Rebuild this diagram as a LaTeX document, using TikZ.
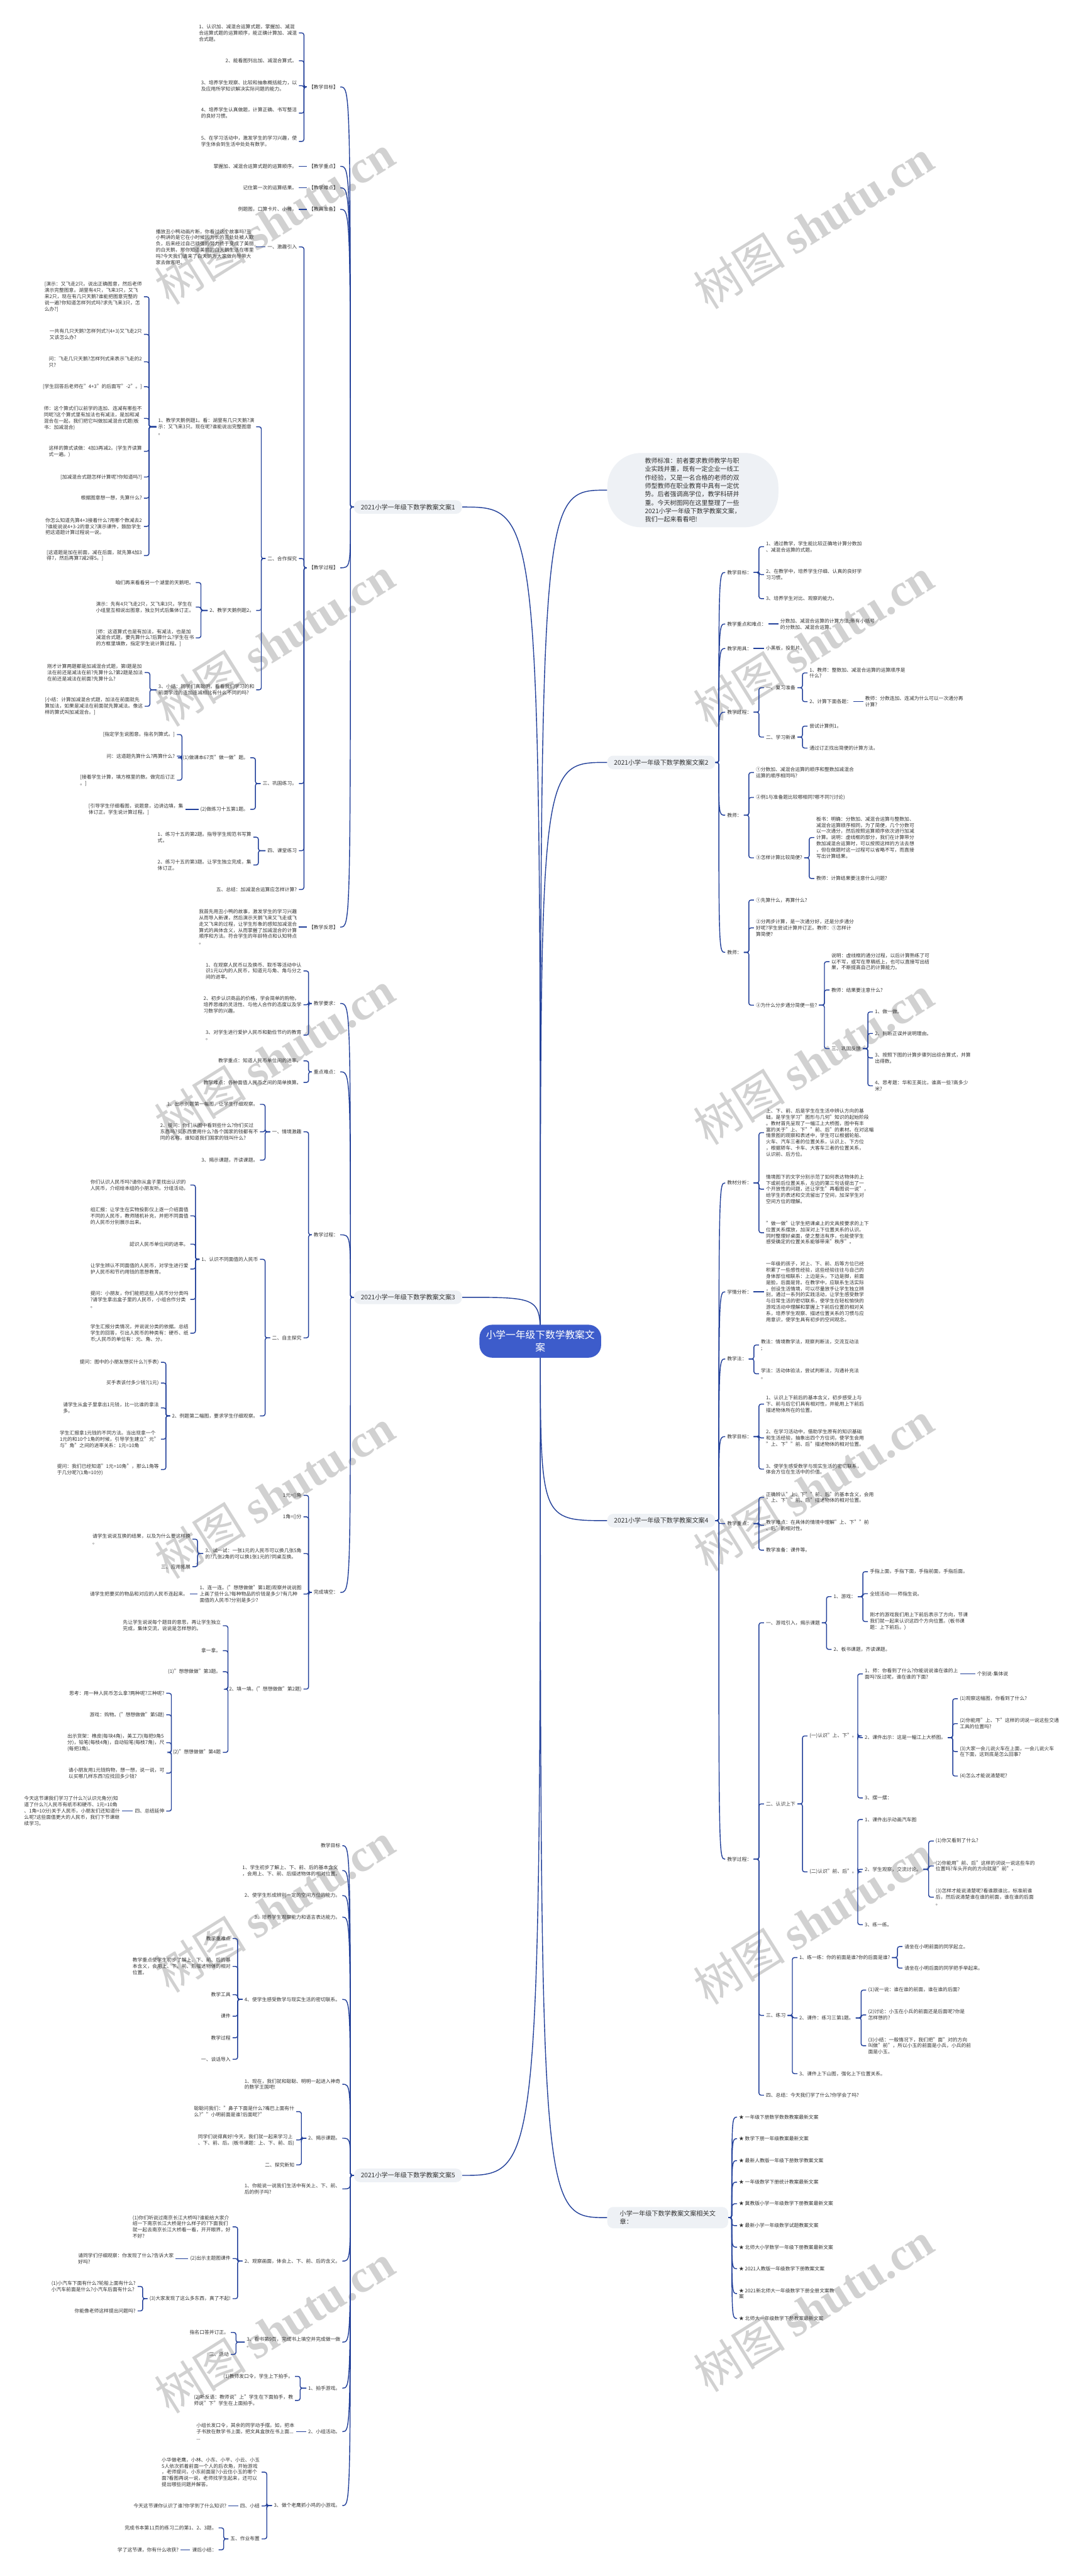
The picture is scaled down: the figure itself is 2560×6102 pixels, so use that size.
\documentclass[tikz,border=0pt]{standalone}
\usepackage{fontspec}
\setmainfont{Noto Sans CJK SC}
\newfontfamily\markserif{Liberation Serif}
\usepackage{xcolor}
\definecolor{linkblue}{HTML}{22409A}
\definecolor{hubblue}{HTML}{3D5CCB}
\definecolor{topicgray}{HTML}{EEF1F5}
\definecolor{inkgray}{HTML}{333333}
\usetikzlibrary{calc}
\newcommand\leaffont{\fontsize{3.3pt}{4.18pt}\selectfont}
\newcommand\topicfont{\fontsize{4.3pt}{5.2pt}\selectfont}
\newcommand\notefont{\fontsize{4.24pt}{5.63pt}\selectfont}
\newcommand\hubfont{\fontsize{6.66pt}{8.6pt}\selectfont}
\newcommand\markfont{\fontsize{31pt}{31pt}\selectfont}

\begin{document}
\begin{tikzpicture}[x=0.01cm, y=-0.01cm,
  leaf/.style={font=\leaffont, align=left, inner sep=0.04cm, text=inkgray},
  lft/.style={leaf, anchor=east},
  rgt/.style={leaf, anchor=west},
  topic/.style={font=\topicfont, fill=topicgray, text=inkgray, align=left,
    rounded corners=0.14cm, inner xsep=0.16cm, inner ysep=0.09cm},
  note/.style={font=\notefont, fill=topicgray, text=inkgray, align=left,
    rounded corners=0.8cm, minimum width=4.05cm, minimum height=1.72cm},
  hub/.style={font=\hubfont, fill=hubblue, text=white, align=center,
    rounded corners=0.3cm, minimum width=2.88cm, minimum height=0.78cm},
  link/.style={draw=linkblue, line width=0.6pt, rounded corners=1.4pt},
  wmark/.style={font=\markfont, text=black!18, rotate=32}]

  \fill[white] (0,0) rectangle (2560,6102);
  \useasboundingbox (0,0) rectangle (2560,6102);

  % watermark
  \foreach \y in {520,1520,2502,3538,4519,5516}
    \node[wmark] (wl\y) at (650,\y) {树图 {\markserif\bfseries shutu.cn}};
  \foreach \y in {530,1522,2511,3521,4547,5464}
    \node[wmark] (wr\y) at (1927,\y) {树图 {\markserif\bfseries shutu.cn}};

  % trunk
  \coordinate (root) at (1280,3177);
  \node[topic, anchor=east] (b1) at (1095,1201) {2021小学一年级下数学教案文案1};
  \node[topic, anchor=east] (b3) at (1095,3073) {2021小学一年级下数学教案文案3};
  \node[topic, anchor=east] (b5) at (1095,5153) {2021小学一年级下数学教案文案5};
  \node[note, anchor=west] (tip) at (1438,1161) {教师标准：前者要求教师教学与职\\业实践并重，既有一定企业一线工\\作经验，又是一名合格的老师的双\\师型教师在职业教育中具有一定优\\势。后者强调高学位，教学科研并\\重。今天树图网在这里整理了一些\\2021小学一年级下数学教案文案，\\我们一起来看看吧!};
  \node[topic, anchor=west] (b2) at (1438,1806) {2021小学一年级下数学教案文案2};
  \node[topic, anchor=west] (b4) at (1438,3602) {2021小学一年级下数学教案文案4};
  \node[topic, anchor=west, minimum width=2.86cm] (rel) at (1438,5253) {小学一年级下数学教案文案相关文\\章：};
  \foreach \b in {b1,b3,b5}
    \draw[link] (root) .. controls (root |- \b.east) .. (\b.east);
  \foreach \b in {tip,b2,b4,rel}
    \draw[link] (root) .. controls (root |- \b.west) .. (\b.west);
  \node[hub] (hub) at (root) {小学一年级下数学教案文\\案};

  % 文案1
  \node[lft] (k1) at (806,206) {【教学目标】};
  \node[lft] (k2) at (806,394) {【教学重点】};
  \node[lft] (k3) at (806,445) {【教学难点】};
  \node[lft] (k4) at (806,496) {【教具准备】};
  \node[lft] (k5) at (806,1345) {【教学过程】};
  \node[lft] (k6) at (806,2196) {【教学反思】};
  \foreach \c in {k1,k2,k3,k4,k5,k6}
    \draw[link] (b1.west) -- ++(-8,0) coordinate (s) .. controls (s |- \c.east) .. (\c.east);

  \node[lft] (k1a) at (708,78) {1、认识加、减混合运算式题，掌握加、减混\\合运算式题的运算顺序，能正确计算加、减混\\合式题。};
  \node[lft] (k1b) at (708,144) {2、能看图列出加、减混合算式。};
  \node[lft] (k1c) at (708,203) {3、培养学生观察、比较和抽象概括能力，以\\及应用所学知识解决实际问题的能力。};
  \node[lft] (k1d) at (708,268) {4、培养学生认真做题，计算正确、书写整洁\\的良好习惯。};
  \node[lft] (k1e) at (708,335) {5、在学习活动中，激发学生的学习兴趣，使\\学生体会到生活中处处有数学。};
  \foreach \c in {k1a,k1b,k1c,k1d,k1e}
    \draw[link] (\c.east) -- ++(12,0) |- (k1.west);
  \node[lft] (k2a) at (708,394) {掌握加、减混合运算式题的运算顺序。};
  \node[lft] (k3a) at (708,445) {记住第一次的运算结果。};
  \node[lft] (k4a) at (708,496) {例题图，口算卡片、小棒。};
  \draw[link] (k2a.east) -- (k2.west);
  \draw[link] (k3a.east) -- (k3.west);
  \draw[link] (k4a.east) -- (k4.west);

  \node[lft] (p1) at (708,585) {一、激趣引入};
  \node[lft] (p2) at (708,1323) {二、合作探究};
  \node[lft] (p3) at (708,1856) {三、巩固练习。};
  \node[lft] (p4) at (708,2015) {四、课堂练习};
  \node[lft] (p5) at (708,2107) {五、总结：加减混合运算应怎样计算?};
  \foreach \c in {p1,p2,p3,p4,p5}
    \draw[link] (\c.east) -- ++(12,0) |- (k5.west);

  \node[lft] (p1a) at (606,585) {播放丑小鸭动画片断，你看过这个故事吗?丑\\小鸭讲的是它在小时候因为长的丑处处被人欺\\负，后来经过自己顽强的努力终于变成了美丽\\的白天鹅，那你知道美丽的白天鹅生活在哪里\\吗?今天我们请来了白天鹅为大家做向导带大\\家去做客吧。};
  \draw[link] (p1a.east) -- (p1.west);

  \node[lft] (p2a) at (607,1011) {1、教学天鹅例题1。看：湖里有几只天鹅?演\\示：又飞来3只。现在呢?谁能说出完整图意\\。};
  \node[lft] (p2b) at (607,1446) {2、教学天鹅例题2。};
  \node[lft] (p2c) at (607,1634) {3、小结：同学们真聪明，看看我们学习的和\\前面学过的连加连减相比有什么不同的吗?};
  \foreach \c in {p2a,p2b,p2c}
    \draw[link] (\c.east) -- ++(12,0) |- (p2.west);

  \node[lft] (q1) at (341,703) {[演示：又飞走2只。说出正确图意，然后老师\\演示完整图意。湖里有4只，飞来3只，又飞\\来2只，现在有几只天鹅?谁能把图意完整的\\说一遍?你知道怎样列式吗?求先飞来3只，怎\\么办?]};
  \node[lft] (q2) at (341,792) {一共有几只天鹅?怎样列式?(4+3)又飞走2只\\又该怎么办?};
  \node[lft] (q3) at (341,857) {问：飞走几只天鹅?怎样列式来表示飞走的2\\只?};
  \node[lft] (q4) at (341,916) {[学生回答后老师在"4+3"的后面写"-2"。]};
  \node[lft] (q5) at (341,991) {师：这个算式们以前学的连加、连减有哪些不\\同呢?这个算式里有加法也有减法，是加和减\\混合在一起，我们把它叫做加减混合式题(板\\书：加减混合)};
  \node[lft] (q6) at (341,1069) {这样的算式读做：4加3再减2。(学生齐读算\\式一遍。)};
  \node[lft] (q7) at (341,1130) {[加减混合式题怎样计算呢?你知道吗?]};
  \node[lft] (q8) at (341,1180) {根据图意想一想，先算什么?};
  \node[lft] (q9) at (341,1247) {你怎么知道先算4+3接着什么?用哪个数减去2\\?谁能说说4+3-2的意义?演示课件，鼓励学生\\把这道题计算过程说一说。};
  \node[lft] (q10) at (341,1316) {[这道题是加在前面，减在后面，就先算4加3\\得7，然后再算7减2得5。]};
  \foreach \c in {q1,q2,q3,q4,q5,q6,q7,q8,q9,q10}
    \draw[link] (\c.east) -- ++(12,0) |- (p2a.west);

  \node[lft] (p2b1) at (464,1380) {咱们再来看看另一个湖里的天鹅吧。};
  \node[lft] (p2b2) at (464,1438) {演示：先有4只飞走2只，又飞来3只。学生在\\小组里互相说出图意，独立列式后集体订正。};
  \node[lft] (p2b3) at (464,1511) {[师：这道算式也是有加法，有减法，也是加\\减混合式题，要先算什么?后算什么?学生在书\\的方框里填数，指定学生说计算过程。]};
  \foreach \c in {p2b1,p2b2,p2b3}
    \draw[link] (\c.east) -- ++(12,0) |- (p2b.west);

  \node[lft] (p2c1) at (343,1593) {刚才计算两题都是加减混合式题，第I题是加\\法在前还是减法在前?先算什么?第2题是加法\\在前还是减法在前面?先算什么?};
  \node[lft] (p2c2) at (343,1673) {[小结：计算加减混合式题，加法在前面就先\\算加法，如果是减法在前面就先算减法。像这\\样的算式叫加减混合。]};
  \foreach \c in {p2c1,p2c2}
    \draw[link] (\c.east) -- ++(12,0) |- (p2c.west);

  \node[lft] (p3a) at (593,1795) {(1)做课本67页"做一做"题。};
  \node[lft] (p3b) at (593,1917) {(2)做练习十五第1题。};
  \foreach \c in {p3a,p3b}
    \draw[link] (\c.east) -- ++(12,0) |- (p3.west);
  \node[lft] (p3a1) at (419,1740) {[指定学生说图意。指名列算式。]};
  \node[lft] (p3a2) at (419,1791) {问：这道题先算什么?再算什么?};
  \node[lft] (p3a3) at (419,1848) {[接着学生计算，填方框里的数。做完后订正\\。]};
  \foreach \c in {p3a1,p3a2,p3a3}
    \draw[link] (\c.east) -- ++(12,0) |- (p3a.west);
  \node[lft] (p3b1) at (439,1917) {[引导学生仔细看图，说题意，边讲边填，集\\体订正。学生说计算过程。]};
  \draw[link] (p3b1.east) -- (p3b.west);

  \node[lft] (p4a) at (600,1983) {1、练习十五的第2题。指导学生规范书写算\\式。};
  \node[lft] (p4b) at (600,2049) {2、练习十五的第3题。让学生独立完成，集\\体订正。};
  \foreach \c in {p4a,p4b}
    \draw[link] (\c.east) -- ++(12,0) |- (p4.west);

  \node[lft] (k6a) at (708,2196) {我首先用丑小鸭的故事，激发学生的学习兴趣\\从而导入新课，然后演示天鹅飞来又飞走或飞\\走又飞来的过程，让学生形象的感知加减混合\\算式的具体含义，从而掌握了加减混合的计算\\顺序和方法。符合学生的年龄特点和认知特点\\。};
  \draw[link] (k6a.east) -- (k6.west);

  % 文案3
  \node[lft] (m1) at (806,2377) {教学要求：};
  \node[lft] (m2) at (806,2539) {重点难点：};
  \node[lft] (m3) at (806,2925) {教学过程：};
  \node[lft] (m4) at (806,3772) {完成填空：};
  \foreach \c in {m1,m2,m3,m4}
    \draw[link] (b3.west) -- ++(-8,0) coordinate (s) .. controls (s |- \c.east) .. (\c.east);

  \node[lft] (m1a) at (719,2300) {1、在观察人民币以及换币、取币等活动中认\\识1元以内的人民币，知道元与角、角与分之\\间的进率。};
  \node[lft] (m1b) at (719,2380) {2、初步认识商品的价格，学会简单的购物，\\培养思维的灵活性、与他人合作的态度以及学\\习数学的兴趣。};
  \node[lft] (m1c) at (719,2452) {3、对学生进行爱护人民币和勤俭节约的教育\\。};
  \foreach \c in {m1a,m1b,m1c}
    \draw[link] (\c.east) -- ++(12,0) |- (m1.west);
  \node[lft] (m2a) at (719,2513) {教学重点：知道人民币单位间的进率。};
  \node[lft] (m2b) at (719,2564) {教学难点：各种面值人民币之间的简单换算。};
  \foreach \c in {m2a,m2b}
    \draw[link] (\c.east) -- ++(12,0) |- (m2.west);

  \node[lft] (r1) at (719,2681) {一、情境激趣};
  \node[lft] (r2) at (719,3169) {二、自主探究};
  \foreach \c in {r1,r2}
    \draw[link] (\c.east) -- ++(12,0) |- (m3.west);
  \node[lft] (r1a) at (616,2616) {1、出示例题第一幅图，让学生仔细观察。};
  \node[lft] (r1b) at (616,2681) {2、提问：你们从图中看到些什么?你们买过\\东西吗?买东西要用什么?各个国家的钱都有不\\同的名称，谁知道我们国家的钱叫什么?};
  \node[lft] (r1c) at (616,2748) {3、揭示课题，齐读课题。};
  \foreach \c in {r1a,r1b,r1c}
    \draw[link] (\c.east) -- ++(12,0) |- (r1.west);

  \node[lft] (s1) at (616,2983) {1、认识不同面值的人民币};
  \node[lft] (s2) at (616,3354) {2、例题第二幅图，要求学生仔细观察。};
  \foreach \c in {s1,s2}
    \draw[link] (\c.east) -- ++(12,0) |- (r2.west);
  \node[lft] (s1a) at (451,2807) {你们认识人民币吗?请你从盒子里找出认识的\\人民币，介绍给本组的小朋友听。分组活动。};
  \node[lft] (s1b) at (451,2880) {组汇报：让学生在实物投影仪上逐一介绍面值\\不同的人民币，教师随机补充，并把不同面值\\的人民币分别展示出来。};
  \node[lft] (s1c) at (451,2947) {認识人民币单位间的进率。};
  \node[lft] (s1d) at (451,3006) {让学生辨认不同面值的人民币，对学生进行爱\\护人民币和节约用钱的思想教育。};
  \node[lft] (s1e) at (451,3078) {提问：小朋友，你们能把这些人民币分分类吗\\?请学生拿出盒子里的人民币，小组合作分类\\。};
  \node[lft] (s1f) at (451,3158) {学生汇报分类情况，并说说分类的依据。总结\\学生的回答，引出人民币的种类有：硬币、纸\\币;人民币的单位有：元、角、分。};
  \foreach \c in {s1a,s1b,s1c,s1d,s1e,s1f}
    \draw[link] (\c.east) -- ++(12,0) |- (s1.west);
  \node[lft] (s2a) at (381,3227) {提问：图中的小朋友想买什么?(手表)};
  \node[lft] (s2b) at (381,3276) {买手表该付多少钱?(1元)};
  \node[lft] (s2c) at (381,3335) {请学生从盒子里拿出1元钱，比一比谁的拿法\\多。};
  \node[lft] (s2d) at (381,3409) {学生汇报拿1元钱的不同方法。当出现拿一个\\1元的和10个1角的时候，引导学生建立"元"\\与"角"之间的进率关系：1元=10角};
  \node[lft] (s2e) at (381,3481) {提问：我们已经知道"1元=10角"，那么1角等\\于几分呢?(1角=10分)};
  \foreach \c in {s2a,s2b,s2c,s2d,s2e}
    \draw[link] (\c.east) -- ++(12,0) |- (s2.west);

  \node[lft] (t1) at (719,3542) {1元=()角};
  \node[lft] (t2) at (719,3593) {1角=()分};
  \node[lft] (t3) at (719,3680) {3、试一试：一张1元的人民币可以换几张5角\\的?几张2角的可以换1张1元的?同桌互换。};
  \node[lft] (t4) at (719,3776) {1、连一连。("想想做做"第1题)观察并说说图\\上画了些什么?每种物品的价钱是多少?有几种\\面值的人民币?分别是多少?};
  \node[lft] (t5) at (719,4001) {2、填一填。("想想做做"第2题)};
  \foreach \c in {t1,t2,t3,t4,t5}
    \draw[link] (\c.east) -- ++(12,0) |- (m4.west);
  \node[lft] (t3a) at (456,3646) {请学生说说互换的结果，以及为什么要这样换\\。};
  \node[lft] (t3b) at (456,3711) {三、应用拓展};
  \foreach \c in {t3a,t3b}
    \draw[link] (\c.east) -- ++(12,0) |- (t3.west);
  \node[lft] (t4a) at (450,3776) {请学生把要买的物品和对应的人民币连起来。};
  \draw[link] (t4a.east) -- (t4.west);
  \node[lft] (t5a) at (528,3851) {先让学生说说每个题目的意思，再让学生独立\\完成，集体交流，说说是怎样想的。};
  \node[lft] (t5b) at (528,3910) {拿一拿。};
  \node[lft] (t5c) at (528,3960) {(1)"想想做做"第3题。};
  \node[lft] (u4) at (528,4151) {(2)"想想做做"第4题};
  \foreach \c in {t5a,t5b,t5c,u4}
    \draw[link] (\c.east) -- ++(12,0) |- (t5.west);
  \node[lft] (u4a) at (394,4011) {思考：用一种人民币怎么拿?两种呢?三种呢?};
  \node[lft] (u4b) at (394,4062) {游戏：购物。("想想做做"第5题)};
  \node[lft] (u4c) at (394,4128) {出示货架：橡皮(每块4角)，美工刀(每把9角5\\分)，铅笔(每枝4角)，自动铅笔(每枝7角)，尺\\(每把3角)。};
  \node[lft] (u4d) at (394,4200) {请小朋友用1元钱购物，想一想，说一说，可\\以买哪几样东西?应找回多少钱?};
  \node[lft] (v5) at (394,4290) {四、总结延伸};
  \foreach \c in {u4a,u4b,u4c,u4d,v5}
    \draw[link] (\c.east) -- ++(12,0) |- (u4.west);
  \node[lft] (v5a) at (289,4290) {今天这节课我们学习了什么?(认识元角分)知\\道了什么?(人民币有纸币和硬币、1元=10角\\、1角=10分)关于人民币，小朋友们还知道什\\么呢?这些面值更大的人民币，我们下节课继\\续学习。};
  \draw[link] (v5a.east) -- (v5.west);

  % 文案5
  \node[lft] (w1) at (811,4372) {教学目标};
  \node[lft] (w2) at (811,4431) {1、学生初步了解上、下、前、后的基本含义\\，会用上、下、前、后描述物体的相对位置。};
  \node[lft] (w3) at (811,4490) {2、使学生形成辨别一定的空间方位的能力。};
  \node[lft] (w4) at (811,4541) {3、培养学生观察能力和语言表达能力。};
  \node[lft] (w5) at (811,4736) {4、使学生感受数学与现实生活的密切联系。};
  \node[lft] (w6) at (811,4937) {1、现在，我们就和聪聪、明明一起进入神奇\\的数学王国吧!};
  \node[lft] (w7) at (811,5065) {2、揭示课题。};
  \node[lft] (w8) at (811,5185) {1、你能说一说我们生活中有关上、下、前、\\后的例子吗?};
  \node[lft] (w9) at (811,5356) {2、观察画面，体会上、下、前、后的含义。};
  \node[lft] (w10) at (811,5548) {3、看书第9页，完成书上填空并完成做一做\\。};
  \node[lft] (w11) at (811,5657) {1、拍手游戏。};
  \node[lft] (w12) at (811,5760) {2、小组活动。};
  \node[lft] (w13) at (811,5935) {3、做个老鹰抓小鸡的小游戏。};
  \foreach \c in {w1,w2,w3,w4,w5,w6,w7,w8,w9,w10,w11,w12,w13}
    \draw[link] (b5.west) -- ++(-8,0) coordinate (s) .. controls (s |- \c.east) .. (\c.east);

  \node[lft] (w5a) at (551,4592) {教学重难点};
  \node[lft] (w5b) at (551,4658) {教学重点使学生初步了解上、下、前、后的基\\本含义，会用上、下、前、后描述物体的相对\\位置。};
  \node[lft] (w5c) at (551,4725) {教学工具};
  \node[lft] (w5d) at (551,4776) {课件};
  \node[lft] (w5e) at (551,4827) {教学过程};
  \node[lft] (w5f) at (551,4878) {一、谈话导入};
  \foreach \c in {w5a,w5b,w5c,w5d,w5e,w5f}
    \draw[link] (\c.east) -- ++(12,0) |- (w5.west);

  \node[lft] (w7a) at (702,5002) {聪聪问我们："鼻子下面是什么?嘴巴上面有什\\么?""小明前面是谁?后面呢?"};
  \node[lft] (w7b) at (702,5069) {同学们说得真好!今天，我们就一起来学习上\\、下、前、后。(板书课题：上、下、前、后)};
  \node[lft] (w7c) at (702,5128) {二、探究新知};
  \foreach \c in {w7a,w7b,w7c}
    \draw[link] (\c.east) -- ++(12,0) |- (w7.west);

  \node[lft] (x1) at (551,5275) {(1)你们听说过南京长江大桥吗?谁能给大家介\\绍一下南京长江大桥是什么样子的?下面我们\\就一起去南京长江大桥看一看，开开眼界，好\\不好?};
  \node[lft] (x2) at (551,5350) {(2)出示主题图课件};
  \node[lft] (x3) at (551,5445) {(3)大家发现了这么多东西，真了不起!};
  \foreach \c in {x1,x2,x3}
    \draw[link] (\c.east) -- ++(12,0) |- (w9.west);
  \node[lft] (x2a) at (416,5350) {请同学们仔细观察：你发现了什么?告诉大家\\好吗?};
  \draw[link] (x2a.east) -- (x2.west);
  \node[lft] (x3a) at (326,5416) {(1)小汽车下面有什么?轮船上面有什么?\\小汽车前面是什么?小汽车后面有什么?};
  \node[lft] (x3b) at (326,5474) {你能像老师这样提出问题吗?};
  \foreach \c in {x3a,x3b}
    \draw[link] (\c.east) -- ++(12,0) |- (x3.west);

  \node[lft] (w10a) at (547,5525) {指名口答并订正。};
  \node[lft] (w10b) at (547,5577) {三、活动};
  \foreach \c in {w10a,w10b}
    \draw[link] (\c.east) -- ++(12,0) |- (w10.west);
  \node[lft] (w11a) at (699,5629) {(1)教师发口令，学生上下拍手。};
  \node[lft] (w11b) at (699,5686) {(2)听反语：教师说"上"学生在下面拍手，教\\师说"下"学生在上面拍手。};
  \foreach \c in {w11a,w11b}
    \draw[link] (\c.east) -- ++(12,0) |- (w11.west);
  \node[lft] (w12a) at (702,5760) {小组长发口令，其余的同学动手摆。如，把本\\子书放在数学书上面，把文具盒放在书上面...\\...};
  \draw[link] (w12a.east) -- (w12.west);

  \node[lft] (y1) at (620,5856) {小华做老鹰，小林、小东、小平、小云、小玉\\5人依次抓着前面一个人的后衣角，开始游戏\\，老师提问，小东前面是?小云住小玉的哪个\\面?看图再说一说，老师找学生起来，还可以\\提出哪些问题并解答。};
  \node[lft] (y2) at (620,5936) {四、小结};
  \node[lft] (y3) at (620,6014) {五、作业布置};
  \foreach \c in {y1,y2,y3}
    \draw[link] (\c.east) -- ++(12,0) |- (w13.west);
  \node[lft] (y2a) at (541,5936) {今天这节课你认识了谁?你学到了什么知识?};
  \draw[link] (y2a.east) -- (y2.west);
  \node[lft] (y3a) at (518,5988) {完成书本第11页的练习二的第1、2、3题。};
  \node[lft] (y3b) at (518,6040) {课后小结：};
  \foreach \c in {y3a,y3b}
    \draw[link] (\c.east) -- ++(12,0) |- (y3.west);
  \node[lft] (y3b1) at (428,6040) {学了这节课，你有什么收获?};
  \draw[link] (y3b1.east) -- (y3b.west);

  % 文案2
  \node[rgt] (n1) at (1718,1356) {教学目标：};
  \node[rgt] (n2) at (1718,1478) {教学重点和难点：};
  \node[rgt] (n3) at (1718,1536) {教学用具：};
  \node[rgt] (n4) at (1718,1687) {教学过程：};
  \node[rgt] (n5) at (1718,1931) {教师：};
  \node[rgt] (n6) at (1718,2256) {教师：};
  \foreach \c in {n1,n2,n3,n4,n5,n6}
    \draw[link] (b2.east) -- ++(8,0) coordinate (s) .. controls (s |- \c.west) .. (\c.west);

  \node[rgt] (n1a) at (1810,1295) {1、通过教学，学生能比较正确地计算分数加\\、减混合运算的式题。};
  \node[rgt] (n1b) at (1810,1361) {2、在教学中，培养学生仔细、认真的良好学\\习习惯。};
  \node[rgt] (n1c) at (1810,1418) {3、培养学生对比、观察的能力。};
  \foreach \c in {n1a,n1b,n1c}
    \draw[link] (\c.west) -- ++(-12,0) |- (n1.east);
  \node[rgt] (n2a) at (1844,1478) {分数加、减混合运算的计算方法;带有小括号\\的分数加、减混合运算。};
  \draw[link] (n2a.west) -- (n2.east);
  \node[rgt] (n3a) at (1810,1536) {小黑板，投影片。};
  \draw[link] (n3a.west) -- (n3.east);

  \node[rgt] (o1) at (1810,1629) {一、复习准备};
  \node[rgt] (o2) at (1810,1746) {二、学习新课};
  \foreach \c in {o1,o2}
    \draw[link] (\c.west) -- ++(-12,0) |- (n4.east);
  \node[rgt] (o1a) at (1913,1594) {1、教师：整数加、减混合运算的运算顺序是\\什么?};
  \node[rgt] (o1b) at (1913,1662) {2、计算下面各题：};
  \foreach \c in {o1a,o1b}
    \draw[link] (\c.west) -- ++(-12,0) |- (o1.east);
  \node[rgt] (o1b1) at (2045,1662) {教师：分数连加、连减为什么可以一次通分再\\计算?};
  \draw[link] (o1b1.west) -- (o1b.east);
  \node[rgt] (o2a) at (1913,1720) {尝试计算例1。};
  \node[rgt] (o2b) at (1913,1772) {通过订正找出简便的计算方法。};
  \foreach \c in {o2a,o2b}
    \draw[link] (\c.west) -- ++(-12,0) |- (o2.east);

  \node[rgt] (n5a) at (1786,1830) {①分数加、减混合运算的顺序和整数加减混合\\运算的顺序相同吗?};
  \node[rgt] (n5b) at (1786,1889) {②例1与准备题比较哪相同?哪不同?(讨论)};
  \node[rgt] (n5c) at (1786,2032) {③怎样计算比较简便?};
  \foreach \c in {n5a,n5b,n5c}
    \draw[link] (\c.west) -- ++(-12,0) |- (n5.east);
  \node[rgt] (n5c1) at (1929,1984) {板书：明确：分数加、减混合运算与整数加、\\减混合运算顺序相同，为了简便，几个分数可\\以一次通分，然后按照运算顺序依次进行加减\\计算。说明：虚线框的部分，我们在计算带分\\数加减混合运算时，可以按照这样的方法去想\\，但在做题时这一过程可以省略不写，而直接\\写出计算结果。};
  \node[rgt] (n5c2) at (1929,2081) {教师：计算结果要注意什么问题?};
  \foreach \c in {n5c1,n5c2}
    \draw[link] (\c.west) -- ++(-12,0) |- (n5c.east);

  \node[rgt] (n6a) at (1786,2132) {①先算什么，再算什么?};
  \node[rgt] (n6b) at (1786,2198) {②分两步计算，是一次通分好，还是分步通分\\好呢?学生尝试计算并订正。教师：①怎样计\\算简便?};
  \node[rgt] (n6c) at (1786,2381) {②为什么分步通分简便一些?};
  \foreach \c in {n6a,n6b,n6c}
    \draw[link] (\c.west) -- ++(-12,0) |- (n6.east);
  \node[rgt] (n6c1) at (1965,2278) {说明：虚线框的通分过程，以后计算熟练了可\\以不写，或写在草稿纸上，也可以直接写出结\\果，不断提高自己的计算能力。};
  \node[rgt] (n6c2) at (1965,2345) {教师：结果要注意什么?};
  \node[rgt] (n6d) at (1965,2484) {三、巩固反馈};
  \foreach \c in {n6c1,n6c2,n6d}
    \draw[link] (\c.west) -- ++(-12,0) |- (n6c.east);
  \node[rgt] (n6d1) at (2068,2397) {1、做一做。};
  \node[rgt] (n6d2) at (2068,2448) {2、判断正误并说明理由。};
  \node[rgt] (n6d3) at (2068,2506) {3、按照下图的计算步骤列出综合算式，并算\\出得数。};
  \node[rgt] (n6d4) at (2068,2572) {4、思考题：华和王英比，谁高一些?高多少\\米?};
  \foreach \c in {n6d1,n6d2,n6d3,n6d4}
    \draw[link] (\c.west) -- ++(-12,0) |- (n6d.east);

  % 文案4
  \node[rgt] (e1) at (1718,2802) {教材分析：};
  \node[rgt] (e2) at (1718,3060) {学情分析：};
  \node[rgt] (e3) at (1718,3219) {教学法：};
  \node[rgt] (e4) at (1718,3403) {教学目标：};
  \node[rgt] (e5) at (1718,3609) {教学重点：};
  \node[rgt] (e6) at (1718,4404) {教学过程：};
  \foreach \c in {e1,e2,e3,e4,e5,e6}
    \draw[link] (b4.east) -- ++(8,0) coordinate (s) .. controls (s |- \c.west) .. (\c.west);

  \node[rgt] (e1a) at (1810,2683) {上、下、前、后是学生在生活中辨认方向的基\\础，是学生学习"图形与几何"知识的起始阶段\\。教材首先呈现了一幅江上大桥图，图中有丰\\富的关于"上、下""前、后"的素材。在对这幅\\情景图的观察和表述中，学生可以根据轮船、\\火车、汽车三者的位置关系，认识上、下方位\\，根据轿车、卡车、大客车三者的位置关系，\\认识前、后方位。};
  \node[rgt] (e1b) at (1810,2817) {情境图下的文字分别示范了如何表达物体的上\\下或前后位置关系，左边的第三句话提出了一\\个开放性的问题，还让学生"再看图说一说"，\\给学生的表述和交流留出了空间，加深学生对\\空间方位的理解。};
  \node[rgt] (e1c) at (1810,2920) {"做一做"让学生把课桌上的文具按要求的上下\\位置关系摆放，加深对上下位置关系的认识。\\同时整理好桌面，使之整洁有序，也能使学生\\感受确定的位置关系能够带来"秩序"。};
  \foreach \c in {e1a,e1b,e1c}
    \draw[link] (\c.west) -- ++(-12,0) |- (e1.east);
  \node[rgt] (e2a) at (1810,3060) {一年级的孩子，对上、下、前、后等方位已经\\积累了一些感性经验，这些经验往往与自己的\\身体部位相联系：上边是头，下边是脚，前面\\是脸，后面是背。在教学中，应联系生活实际\\，创设生活情境，可以尽量放手让学生独立辨\\别，通过一系列的实践活动，让学生感受数学\\与日常生活的密切联系，使学生在轻松愉快的\\游戏活动中理解和掌握上下前后位置的相对关\\系，培养学生观察、描述位置关系的习惯与应\\用意识，使学生具有初步的空间观念。};
  \draw[link] (e2a.west) -- (e2.east);
  \node[rgt] (e3a) at (1798,3186) {教法：情境教学法，观察判断法，交流互动法\\;};
  \node[rgt] (e3b) at (1798,3254) {学法：活动体验法，尝试判断法，沟通补充法\\。};
  \foreach \c in {e3a,e3b}
    \draw[link] (\c.west) -- ++(-12,0) |- (e3.east);
  \node[rgt] (e4a) at (1810,3326) {1、认识上下前后的基本含义，初步感受上与\\下、前与后它们具有相对性，并能用上下前后\\描述物体所在的位置。};
  \node[rgt] (e4b) at (1810,3406) {2、在学习活动中，借助学生原有的知识基础\\和生活经验，抽象出四个方位词，使学生会用\\"上、下""前、后"描述物体的相对位置。};
  \node[rgt] (e4c) at (1810,3480) {3、使学生感受数学与现实生活的密切联系，\\体会方位在生活中的价值。};
  \foreach \c in {e4a,e4b,e4c}
    \draw[link] (\c.west) -- ++(-12,0) |- (e4.east);
  \node[rgt] (e5a) at (1810,3547) {正确辨认"上、下""前、后"的基本含义，会用\\"上、下""前、后"描述物体的相对位置。};
  \node[rgt] (e5b) at (1810,3613) {教学难点：在具体的情境中理解"上、下""前\\、后"的相对性。};
  \node[rgt] (e5c) at (1810,3672) {教学准备：课件等。};
  \foreach \c in {e5a,e5b,e5c}
    \draw[link] (\c.west) -- ++(-12,0) |- (e5.east);

  \node[rgt] (f1) at (1810,3844) {一、游戏引入，揭示课题};
  \node[rgt] (f2) at (1810,4273) {二、认识上下};
  \node[rgt] (f3) at (1810,4774) {三、练习};
  \node[rgt] (f4) at (1810,4963) {四、总结：今天我们学了什么?你学会了吗?};
  \foreach \c in {f1,f2,f3,f4}
    \draw[link] (\c.west) -- ++(-12,0) |- (e6.east);

  \node[rgt] (g1) at (1970,3782) {1、游戏：};
  \node[rgt] (g2) at (1970,3907) {2、板书课题，齐读课题。};
  \foreach \c in {g1,g2}
    \draw[link] (\c.west) -- ++(-12,0) |- (f1.east);
  \node[rgt] (g1a) at (2056,3723) {手指上面，手指下面，手指前面，手指后面。};
  \node[rgt] (g1b) at (2056,3775) {全班活动——师指生说。};
  \node[rgt] (g1c) at (2056,3841) {刚才的游戏我们用上下前后表示了方向，节课\\我们就一起来认识这四个方向位置。(板书课\\题：上下前后。)};
  \foreach \c in {g1a,g1b,g1c}
    \draw[link] (\c.west) -- ++(-12,0) |- (g1.east);

  \node[rgt] (h1) at (1913,4112) {(一)认识"上、下"。};
  \node[rgt] (h2) at (1913,4434) {(二)认识"前、后"。};
  \foreach \c in {h1,h2}
    \draw[link] (\c.west) -- ++(-12,0) |- (f2.east);
  \node[rgt] (i1) at (2044,3965) {1、师：你看到了什么?你能说说谁在谁的上\\面吗?反过呢，谁在谁的下面?};
  \node[rgt] (i2) at (2044,4116) {2、课件出示：这是一幅江上大桥图。};
  \node[rgt] (i3) at (2044,4259) {3、摆一摆：};
  \foreach \c in {i1,i2,i3}
    \draw[link] (\c.west) -- ++(-12,0) |- (h1.east);
  \node[rgt] (i1a) at (2310,3965) {个别说-集体说};
  \draw[link] (i1a.west) -- (i1.east);
  \node[rgt] (i2a) at (2269,4024) {(1)观察这幅图，你看到了什么?};
  \node[rgt] (i2b) at (2269,4083) {(2)你能用"上、下"这样的词说一说这些交通\\工具的位置吗?};
  \node[rgt] (i2c) at (2269,4149) {(3)大家一会儿说火车在上面，一会儿说火车\\在下面，这到底是怎么回事?};
  \node[rgt] (i2d) at (2269,4207) {(4)怎么才能说清楚呢?};
  \foreach \c in {i2a,i2b,i2c,i2d}
    \draw[link] (\c.west) -- ++(-12,0) |- (i2.east);

  \node[rgt] (j1) at (2044,4310) {1、课件出示动画汽车图};
  \node[rgt] (j2) at (2044,4428) {2、学生观察，交流讨论。};
  \node[rgt] (j3) at (2044,4559) {3、练一练。};
  \foreach \c in {j1,j2,j3}
    \draw[link] (\c.west) -- ++(-12,0) |- (h2.east);
  \node[rgt] (j2a) at (2212,4361) {(1)你又看到了什么?};
  \node[rgt] (j2b) at (2212,4420) {(2)你能用"前、后"这样的词说一说这些车的\\位置吗?车头开向的方向就是"前"。};
  \node[rgt] (j2c) at (2212,4494) {(3)怎样才能说清楚呢?看谁跟谁比，标准前谁\\后，然后说清楚谁在谁的前面，谁在谁的后面\\。};
  \foreach \c in {j2a,j2b,j2c}
    \draw[link] (\c.west) -- ++(-12,0) |- (j2.east);

  \node[rgt] (l1) at (1889,4637) {1、练一练：你的前面是谁?你的后面是谁?};
  \node[rgt] (l2) at (1889,4780) {2、课件：练习三第1题。};
  \node[rgt] (l3) at (1889,4912) {3、课件上下山图，强化上下位置关系。};
  \foreach \c in {l1,l2,l3}
    \draw[link] (\c.west) -- ++(-12,0) |- (f3.east);
  \node[rgt] (l1a) at (2138,4611) {请坐在小明前面的同学起立。};
  \node[rgt] (l1b) at (2138,4662) {请坐在小明后面的同学把手举起来。};
  \foreach \c in {l1a,l1b}
    \draw[link] (\c.west) -- ++(-12,0) |- (l1.east);
  \node[rgt] (l2a) at (2052,4714) {(1)说一说：谁在谁的前面，谁在谁的后面?};
  \node[rgt] (l2b) at (2052,4773) {(2)讨论：小玉在小兵的前面还是后面呢?你是\\怎样想的?};
  \node[rgt] (l2c) at (2052,4846) {(3)小结：一般情况下，我们把"面"对的方向\\叫做"前"，所以小玉的前面是小兵，小兵的前\\面是小玉。};
  \foreach \c in {l2a,l2b,l2c}
    \draw[link] (\c.west) -- ++(-12,0) |- (l2.east);

  % 相关文章
  \node[rgt] (a1) at (1746,5015) {★ 一年级下册数学数数教案最新文案};
  \node[rgt] (a2) at (1746,5066) {★ 数学下册一年级教案最新文案};
  \node[rgt] (a3) at (1746,5118) {★ 最新人教版一年级下册数学教案文案};
  \node[rgt] (a4) at (1746,5169) {★ 一年级数学下册统计教案最新文案};
  \node[rgt] (a5) at (1746,5220) {★ 冀教版小学一年级数学下册教案最新文案};
  \node[rgt] (a6) at (1746,5272) {★ 最新小学一年级数学试题教案文案};
  \node[rgt] (a7) at (1746,5323) {★ 北师大小学数学一年级下册教案最新文案};
  \node[rgt] (a8) at (1746,5374) {★ 2021人教版一年级数学下册教案文案};
  \node[rgt] (a9) at (1746,5433) {★ 2021新北师大一年级数学下册全册文案教\\案};
  \node[rgt] (a10) at (1746,5492) {★ 北师大一年级数学下册教案最新文案};
  \foreach \c in {a1,a2,a3,a4,a5,a6,a7,a8,a9,a10}
    \draw[link] (rel.east) -- ++(8,0) coordinate (s) .. controls (s |- \c.west) .. (\c.west);

\end{tikzpicture}
\end{document}
